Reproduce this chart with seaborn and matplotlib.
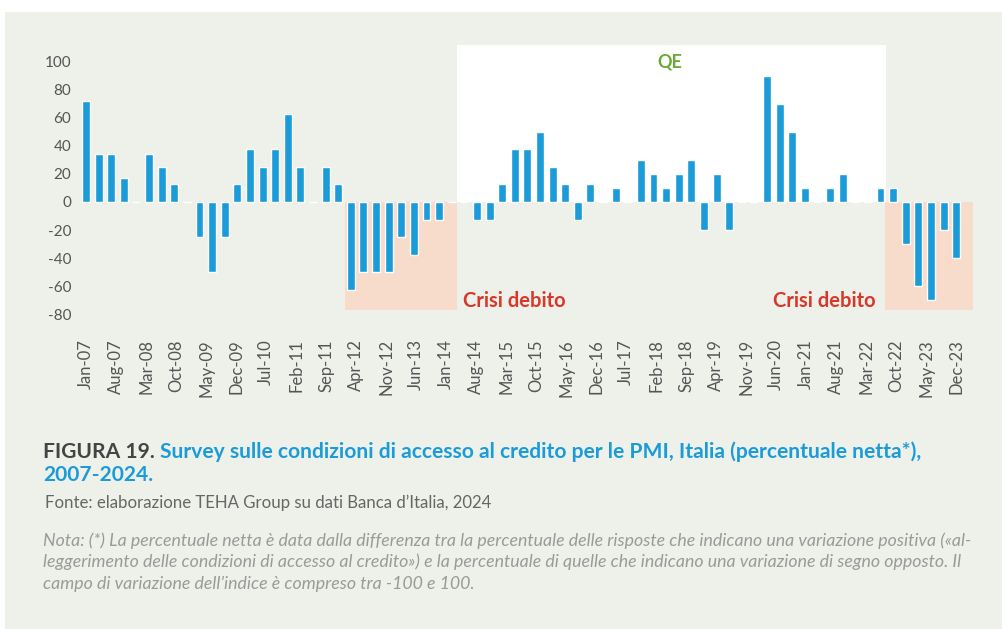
import numpy as np
import pandas as pd
import seaborn as sns
import matplotlib.pyplot as plt
from matplotlib.patches import Rectangle

# quarterly net percentage, Q1 2007 -> Q2 2024
values = [72, 34, 34, 17, 0, 34, 25, 13, 0, -25, -50, -25, 13, 38, 25, 38,
          63, 25, 0, 25, 13, -63, -50, -50, -50, -25, -38, -13, -13, 0, 0, -13,
          -13, 13, 38, 38, 50, 25, 13, -13, 13, 0, 10, 0, 30, 20, 10, 20,
          30, -20, 20, -20, 0, 0, 90, 70, 50, 10, 0, 10, 20, 0, 0, 10,
          10, -30, -60, -70, -20, -40]

tick_labels = ["Jan-07", "Aug-07", "Mar-08", "Oct-08", "May-09", "Dec-09", "Jul-10",
               "Feb-11", "Sep-11", "Apr-12", "Nov-12", "Jun-13", "Jan-14", "Aug-14",
               "Mar-15", "Oct-15", "May-16", "Dec-16", "Jul-17", "Feb-18", "Sep-18",
               "Apr-19", "Nov-19", "Jun-20", "Jan-21", "Aug-21", "Mar-22", "Oct-22",
               "May-23", "Dec-23"]
y_ticks = [-80, -60, -40, -20, 0, 20, 40, 60, 80, 100]

nota_lines = [
    "Nota: (*) La percentuale netta \u00e8 data dalla differenza tra la percentuale delle risposte che indicano una variazione positiva (\u00abal-",
    "leggerimento delle condizioni di accesso al credito\u00bb) e la percentuale di quelle che indicano una variazione di segno opposto. Il",
    "campo di variazione dell\u2019indice \u00e8 compreso tra -100 e 100.",
]

BG = '#eef0ea'
BLUE = '#1b9cd8'
SALMON = '#f7dbcb'
RED = '#d8372a'
GREEN = '#6aab35'
GRAY = '#555555'

sns.set_style("white")
plt.rcParams['font.family'] = ['Lato', 'DejaVu Sans']

W, H = 1003, 629
fig = plt.figure(figsize=(W / 100, H / 100), dpi=100, facecolor='white')
fig.patches.append(Rectangle((5 / W, 0), 1, 1 - 12 / H, transform=fig.transFigure,
                             facecolor=BG, edgecolor='none', zorder=-10))

# axes placed so bars sit where the reference draws them
ax = fig.add_axes([73.4 / W, 1 - 317 / H, 908 / W, (317 - 40.7) / H])
ax.set_facecolor('none')

df = pd.DataFrame({'q': np.arange(len(values)), 'v': values})
sns.barplot(data=df, x='q', y='v', color=BLUE, saturation=1, width=0.63,
            ax=ax, zorder=3)

ax.set_xlim(-1, 71)
ax.set_ylim(-82, 115)

# shaded periods
ax.add_patch(Rectangle((20.5, -77), 8.9, 77, facecolor=SALMON, edgecolor='none', zorder=1))
ax.add_patch(Rectangle((29.4, 0), 34.0, 112, facecolor='white', edgecolor='none', zorder=1))
ax.add_patch(Rectangle((63.35, -77), 7.0, 77, facecolor=SALMON, edgecolor='none', zorder=1))

ax.text(46.3, 100, 'QE', color=GREEN, fontsize=13, fontweight='bold', ha='center', va='center')
ax.text(29.9, -70.5, 'Crisi debito', color=RED, fontsize=14.5, fontweight='bold', va='center')
ax.text(54.5, -70.5, 'Crisi debito', color=RED, fontsize=14.5, fontweight='bold', va='center')

ax.set_yticks(y_ticks)
ax.set_yticklabels([str(t) for t in y_ticks], color=GRAY, fontsize=11)
ax.set_xticks(np.linspace(0, len(values) - 1, len(tick_labels)))
ax.set_xticklabels(tick_labels, rotation=90, color=GRAY, fontsize=12)
ax.tick_params(axis='y', length=0, pad=1.5)
ax.tick_params(axis='x', length=0, pad=16)
ax.set_xlabel('')
ax.set_ylabel('')
sns.despine(ax=ax, left=True, bottom=True)

# caption block
fs_title = 15.1
t1 = fig.text(43 / W, 1 - 458 / H, 'FIGURA 19. ', color='#444444', fontsize=fs_title,
              fontweight='bold', va='baseline')
fig.canvas.draw()
bb = t1.get_window_extent(fig.canvas.get_renderer())
fig.text(bb.x1 / W, 1 - 458 / H,
         'Survey sulle condizioni di accesso al credito per le PMI, Italia (percentuale netta*),',
         color=BLUE, fontsize=fs_title, fontweight='bold', va='baseline')
fig.text(43 / W, 1 - 481 / H, '2007-2024.', color=BLUE, fontsize=fs_title, fontweight='bold',
         va='baseline')
fig.text(45 / W, 1 - 508 / H, 'Fonte: elaborazione TEHA Group su dati Banca d\u2019Italia, 2024',
         color='#666666', fontsize=12.1, va='baseline')
for k, line in enumerate(nota_lines):
    fig.text(43 / W, 1 - (546 + 21.5 * k) / H, line, color='#9a9a9a', fontsize=12.8,
             style='italic', va='baseline')

fig.savefig('out.png', dpi=100, facecolor='white')
